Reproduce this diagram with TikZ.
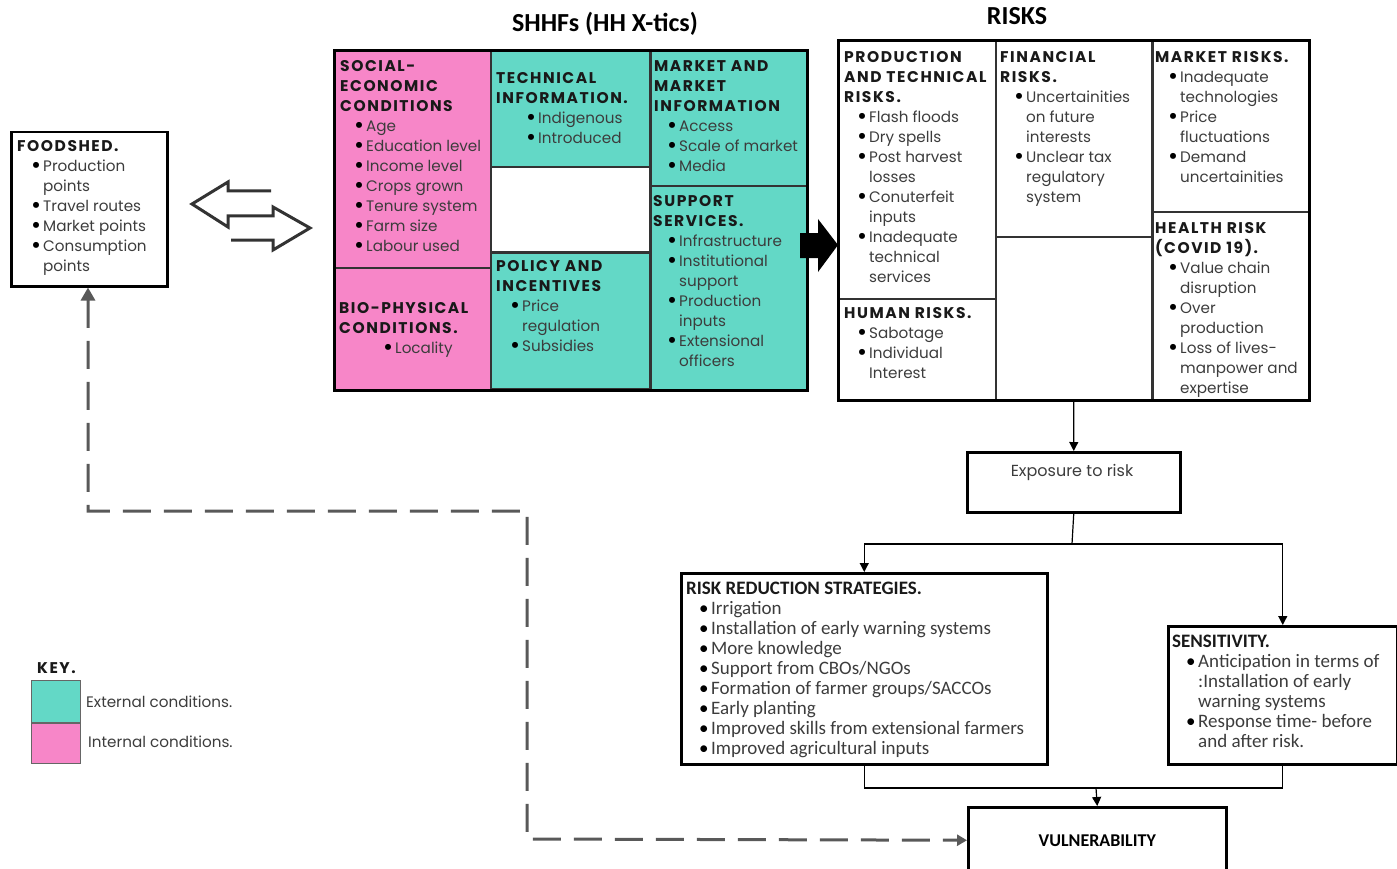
\documentclass[tikz,border=0pt]{standalone}
\usepackage{fontspec}
\setmainfont{Poppins}
\newfontfamily\carl{Carlito}
\usetikzlibrary{arrows.meta,positioning,fit,calc}

\definecolor{pinkc}{RGB}{247,134,200}
\definecolor{tealc}{RGB}{99,216,198}
\definecolor{inkc}{RGB}{60,60,60}

% headings and bullet lines
\newcommand{\fst}{\rule{0pt}{16pt}}
\newcommand{\hd}[1]{\fst{\fontsize{15.5}{20}\selectfont\bfseries\addfontfeature{LetterSpace=10}\color{black!90}#1}}
\newcommand{\bulmark}{\smash{\raisebox{-2.2pt}{\scalebox{1.6}{\textbullet}}}}
\newcommand{\bul}[2][14pt]{\hspace*{#1}\makebox[12pt][l]{\color{black}\bulmark}#2}
\newcommand{\contl}[2][14pt]{\hspace*{#1}\hspace*{12pt}#2}

\tikzset{
  cell/.style={rectangle, draw=black!80, line width=1.2pt, inner sep=0pt, anchor=north west},
  blkframe/.style={rectangle, draw=black, line width=3pt, inner sep=0pt},
  box/.style={rectangle, draw=black, line width=2.5pt, inner sep=0pt, anchor=north west},
  txt/.style={anchor=north west, yshift=16pt, align=left, inner sep=0pt, text=inkc,
    font=\fontsize{15.2}{20}\selectfont, execute at begin node={\fst}},
  ctxt/.style={txt, font=\carl\fontsize{19}{20}\selectfont,
    execute at begin node={\renewcommand{\bulmark}{\smash{\textbullet}}\fst}},
  ttlstyle/.style={inner sep=0pt, font=\carl\bfseries\fontsize{26}{30}\selectfont},
  conn/.style={-{Triangle[length=9pt,width=9pt]}, line width=1.2pt},
  dashconn/.style={{Triangle[length=13pt,width=14pt]}-{Triangle[length=10pt,width=11pt]}, dash pattern=on 28pt off 13pt, line width=3pt, draw=black!65},
  dblarrow/.style={line width=3pt, draw=black!80, line join=miter}
}

\begin{document}
\begin{tikzpicture}[x=1pt,y=-1pt]
\useasboundingbox (0,0) rectangle (1397,869);

\draw (605,24) node (ttlshhf) [ttlstyle] {SHHFs (HH X-tics)};
\draw (1017,16) node (ttlrisk) [ttlstyle] {RISKS};

% foodshed
\draw (10,131) node (food) [box, minimum width=156pt, minimum height=154pt] {};
\draw (17,151) node (foodt) [txt] {\hd{FOODSHED.}\\ \bul{Production}\\ \contl{points}\\ \bul{Travel routes}\\ \bul{Market points}\\ \bul{Consumption}\\ \contl{points}};

\draw [dblarrow] (271,191) -- (228,191) -- (228,182) -- (192,204) -- (228,227) -- (228,216) -- (273,216) -- (273,207) -- (310,228) -- (273,250) -- (273,240) -- (231,240);

% SHHF cells
\draw (334,51) node (socio) [cell, fill=pinkc, minimum width=156pt, minimum height=216pt] {};
\draw (socio.south west) node (bio) [cell, fill=pinkc, minimum width=156pt, minimum height=121pt] {};
\draw (socio.north east) node (tech) [cell, fill=tealc, minimum width=158pt, minimum height=115pt] {};
\draw (tech.south west) node (gap) [cell, minimum width=158pt, minimum height=84pt] {};
\draw (gap.south west) node (pol) [cell, fill=tealc, minimum width=158pt, minimum height=136pt] {};
\draw (tech.north east) node (mkt) [cell, fill=tealc, minimum width=156pt, minimum height=134pt] {};
\draw (mkt.south west) node (supp) [cell, fill=tealc, minimum width=156pt, minimum height=203pt] {};
\node (shhf) [blkframe, fit=(socio)(bio)(supp)] {};

\draw (340,71) node (sociot) [txt] {\hd{SOCIAL-}\\ \hd{ECONOMIC}\\ \hd{CONDITIONS}\\ \bul{Age}\\ \bul{Education level}\\ \bul{Income level}\\ \bul{Crops grown}\\ \bul{Tenure system}\\ \bul{Farm size}\\ \bul{Labour used}};
\draw (339,313) node (biot) [txt] {\hd{BIO-PHYSICAL}\\ \hd{CONDITIONS.}\\ \bul[44pt]{Locality}};
\draw (496,83) node (techt) [txt] {\hd{TECHNICAL}\\ \hd{INFORMATION.}\\ \bul[30pt]{Indigenous}\\ \bul[30pt]{Introduced}};
\draw (496,271) node (polt) [txt] {\hd{POLICY AND}\\ \hd{INCENTIVES}\\ \bul{Price}\\ \contl{regulation}\\ \bul{Subsidies}};
\draw (654,71) node (mktt) [txt] {\hd{MARKET AND}\\ \hd{MARKET}\\ \hd{INFORMATION}\\ \bul[13pt]{Access}\\ \bul[13pt]{Scale of market}\\ \bul[13pt]{Media}};
\draw (653,206) node (suppt) [txt] {\hd{SUPPORT}\\ \hd{SERVICES.}\\ \bul{Infrastructure}\\ \bul{Institutional}\\ \contl{support}\\ \bul{Production}\\ \contl{inputs}\\ \bul{Extensional}\\ \contl{officers}};

\fill (800,233) -- (818,233) -- (818,219) -- (838,245) -- (818,272) -- (818,258) -- (800,258) -- cycle;

% risk cells
\draw (838,41) node (prod) [cell, minimum width=157pt, minimum height=257pt] {};
\draw (prod.south west) node (hum) [cell, minimum width=157pt, minimum height=100pt] {};
\draw (prod.north east) node (fin) [cell, minimum width=155pt, minimum height=195pt] {};
\draw (fin.south west) node (finb) [cell, minimum width=155pt, minimum height=162pt] {};
\draw (fin.north east) node (mrisk) [cell, minimum width=156pt, minimum height=170pt] {};
\draw (mrisk.south west) node (hlth) [cell, minimum width=156pt, minimum height=187pt] {};
\node (risk) [blkframe, fit=(prod)(hum)(hlth)] {};

\draw (844,62) node (prodt) [txt] {\hd{PRODUCTION}\\ \hd{AND TECHNICAL}\\ \hd{RISKS.}\\ \bul[13pt]{Flash floods}\\ \bul[13pt]{Dry spells}\\ \bul[13pt]{Post harvest}\\ \contl[13pt]{losses}\\ \bul[13pt]{Conuterfeit}\\ \contl[13pt]{inputs}\\ \bul[13pt]{Inadequate}\\ \contl[13pt]{technical}\\ \contl[13pt]{services}};
\draw (844,318) node (humt) [txt] {\hd{HUMAN RISKS.}\\ \bul[13pt]{Sabotage}\\ \bul[13pt]{Individual}\\ \contl[13pt]{Interest}};
\draw (1000,62) node (fint) [txt] {\hd{FINANCIAL}\\ \hd{RISKS.}\\ \bul{Uncertainities}\\ \contl{on future}\\ \contl{interests}\\ \bul{Unclear tax}\\ \contl{regulatory}\\ \contl{system}};
\draw (1155,62) node (mriskt) [txt] {\hd{MARKET RISKS.}\\ \bul[13pt]{Inadequate}\\ \contl[13pt]{technologies}\\ \bul[13pt]{Price}\\ \contl[13pt]{fluctuations}\\ \bul[13pt]{Demand}\\ \contl[13pt]{uncertainities}};
\draw (1155,233) node (hltht) [txt] {\hd{HEALTH RISK}\\ \hd{(COVID 19).}\\ \bul[13pt]{Value chain}\\ \contl[13pt]{disruption}\\ \bul[13pt]{Over}\\ \contl[13pt]{production}\\ \bul[13pt]{Loss of lives-}\\ \contl[13pt]{manpower and}\\ \contl[13pt]{expertise}};

% exposure and outcomes
\draw (966,451) node (expo) [box, minimum width=213pt, minimum height=60pt] {};
\draw (1072,472) node (expot) [inner sep=0pt, text=inkc, font=\fontsize{16}{20}\selectfont] {Exposure to risk};
\draw [conn] (risk.south) -- (expo.north);

\draw (680,572) node (rrs) [box, minimum width=366pt, minimum height=191pt] {};
\draw (686,594.5) node (rrst) [ctxt] {\fst{\bfseries\color{black!90}RISK REDUCTION STRATEGIES.}\\ \bul[13pt]{Irrigation}\\ \bul[13pt]{Installation of early warning systems}\\ \bul[13pt]{More knowledge}\\ \bul[13pt]{Support from CBOs/NGOs}\\ \bul[13pt]{Formation of farmer groups/SACCOs}\\ \bul[13pt]{Early planting}\\ \bul[13pt]{Improved skills from extensional farmers}\\ \bul[13pt]{Improved agricultural inputs}};

\draw (1167,625) node (sens) [box, minimum width=229pt, minimum height=138pt] {};
\draw (1172,647.5) node (senst) [ctxt] {\fst{\bfseries\color{black!90}SENSITIVITY.}\\ \bul{Anticipation in terms of}\\ \contl{:Installation of early}\\ \contl{warning systems}\\ \bul{Response time- before}\\ \contl{and after risk.}};

\coordinate (split) at (1072,544);
\draw [line width=1.2pt] (expo.south) -- (split);
\draw [conn] (split) -| (rrs.north);
\draw [conn] (split) -| (sens.north);

\draw (967,806) node (vul) [box, minimum width=258pt, minimum height=66pt] {};
\draw (vul.center) node (vult) [inner sep=0pt, font=\carl\bfseries\fontsize{18}{20}\selectfont] {VULNERABILITY};

\coordinate (join) at (1096,788);
\draw [line width=1.2pt] (rrs.south) |- (join);
\draw [line width=1.2pt] (sens.south) |- (join);
\draw [conn] (join) -- (vul.north);

\draw [dashconn] (food.south -| 88,0) -- (88,511) -- (527,511) -- (527,839) -- (vul.west);

% key
\draw (37,673) node (keyt) [txt] {\hd{KEY.}};
\draw (31,680) node (kext) [cell, draw=black!60, fill=tealc, minimum width=49pt, minimum height=42pt] {};
\draw (kext.south west) node (kint) [cell, draw=black!60, fill=pinkc, minimum width=49pt, minimum height=40pt] {};
\draw (86,707) node (kextt) [txt] {External conditions.};
\draw (88,747) node (kintt) [txt] {Internal conditions.};

\end{tikzpicture}
\end{document}
